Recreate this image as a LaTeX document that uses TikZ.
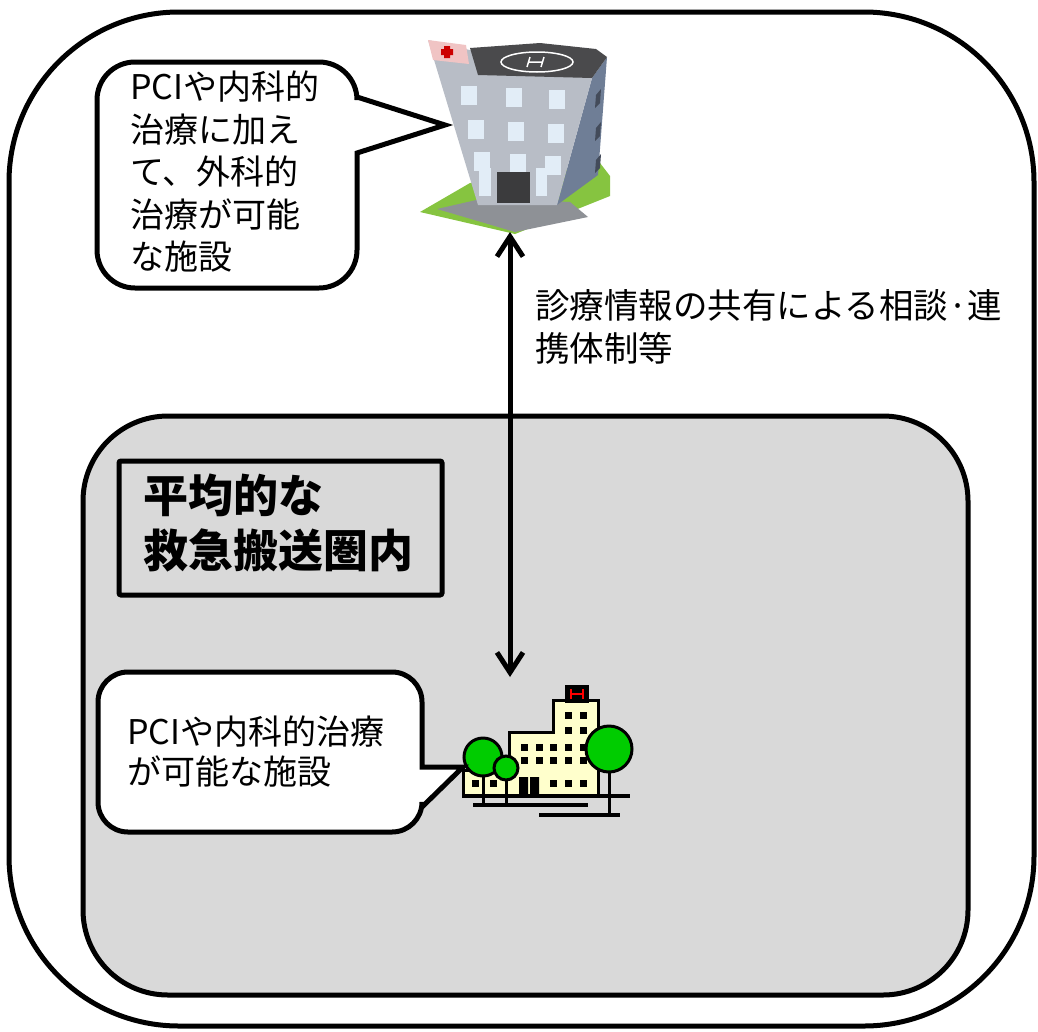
\documentclass[tikz,border=0pt]{standalone}
\usepackage{fontspec}
\setmainfont{Noto Sans CJK JP}
\usetikzlibrary{arrows.meta}
\definecolor{zonegray}{HTML}{D9D9D9}
\definecolor{cream}{HTML}{FFFFCC}
\definecolor{leaf}{HTML}{00CC00}
\definecolor{grass}{HTML}{86C440}
\definecolor{pave}{HTML}{8E9196}
\definecolor{facegray}{HTML}{B8BDC6}
\definecolor{sideblue}{HTML}{6F7E96}
\definecolor{roofgray}{HTML}{4A4A4C}
\definecolor{pane}{HTML}{E2EDF7}
\definecolor{crosspink}{HTML}{F0C4C4}
\tikzset{
  frame/.style   = {draw, line width=5pt, rounded corners=170pt},
  zone/.style    = {draw, line width=5pt, fill=zonegray, rounded corners=85pt},
  callout/.style = {draw, line width=5pt, fill=white},
  tagbox/.style  = {draw, line width=5pt, rounded corners=2pt},
  link/.style    = {line width=5pt,
                    {Straight Barb[length=20pt,width=26pt]}-{Straight Barb[length=20pt,width=26pt]}},
  txt/.style     = {inner sep=0pt, align=left, anchor=west,
                    font=\fontsize{34pt}{42.5pt}\selectfont},
  tagtxt/.style  = {inner sep=0pt, align=left, anchor=west,
                    font=\bfseries\fontsize{45pt}{55pt}\selectfont},
  clip/.style    = {draw, line width=3pt, line join=miter},
  win/.style     = {fill=black},
  tree/.style    = {draw, line width=3pt, fill=leaf},
}

\begin{document}
\begin{tikzpicture}[x=1pt, y=-1pt]
  \useasboundingbox (0,0) rectangle (1038,1031);

  % outer area and the transport zone
  \draw[frame] (9,12) rectangle (1034,1026);
  \path[zone] (83,416) rectangle (968,995);
  \draw[tagbox] (119,461) rectangle (442,595);
  \node[tagtxt] (zonetag) at (143,523) {平均的な\\救急搬送圏内};

  % upper hospital (tower with helipad)
  \fill[grass] (420,212) -- (470,183) -- (600,163) -- (610,176) -- (610,196) -- (515,234) -- cycle;
  \fill[pave] (437,209) -- (485,198) -- (570,202) -- (588,217) -- (515,232) -- cycle;
  \fill[sideblue] (592,78) -- (607,57) -- (598,175) -- (557,205) -- cycle;
  \fill[facegray] (428,40) -- (478,52) -- (592,78) -- (557,205) -- (478,205) -- cycle;
  \fill[roofgray] (470,48) -- (540,43) -- (596,49) -- (607,57) -- (592,78) -- (478,75) -- cycle;
  \draw[white, line width=1.5pt] (537,62) ellipse (36pt and 10pt);
  \draw[white, line width=1.5pt] (530,57) -- (527,67) (544,57) -- (541,67) (528,62) -- (543,62);
  \fill[crosspink] (428,40) -- (466,45) -- (469,64) -- (433,60) -- cycle;
  \fill[red!80!black] (444,46) rectangle (450,58) (441,49) rectangle (453,55);
  \foreach \x/\y in {461/86, 506/88, 549/90, 468/120, 508/122, 548/124, 474/152, 510/154, 545/156}
    \fill[pane] (\x,\y) rectangle ++(16,19);
  \fill[pane] (479,168) rectangle (491,196);
  \fill[pane] (536,168) rectangle (547,196);
  \foreach \y in {95, 128, 160}
    \fill[sideblue!60!black] (596,\y) -- (601,\y-6) -- (600,\y+8) -- (595,\y+13) -- cycle;
  \fill[roofgray!80!black] (497,172) rectangle (530,203);
  \coordinate (upperfoot) at (510,232);

  % lower hospital (clip-art building with trees)
  \draw[clip, fill=cream] (463,795) -- (463,770) -- (509,770) -- (509,732) -- (553,732)
    -- (553,700) -- (598,700) -- (598,795) -- cycle;
  \draw[line width=2pt, fill=black] (566,686) rectangle (588,702);
  \draw[red, line width=2.5pt] (571,689) -- (571,699) (583,689) -- (583,699) (571,694) -- (583,694);
  \foreach \x/\y in {568/715, 583/715, 568/730, 583/730}
    \fill[win] (\x-3.5,\y-3.5) rectangle ++(7,7);
  \foreach \x in {524, 539, 553, 568, 583}{
    \fill[win] (\x-3.5,743.5) rectangle ++(7,7);
    \fill[win] (\x-3.5,756.5) rectangle ++(7,7);
  }
  \foreach \x in {475, 493, 553, 568, 583}
    \fill[win] (\x-3.5,779.5) rectangle ++(7,7);
  \fill[black] (519,777) rectangle (528,795) (530,777) rectangle (539,795);
  \draw[line width=4pt] (462,796) -- (630,796);
  \draw[line width=4pt] (473,805) -- (588,805);
  \draw[line width=4pt] (539,815) -- (620,815);
  \draw[line width=3pt] (483,770) -- (483,805) (506,775) -- (506,805) (609,770) -- (609,815);
  \draw[tree] (483,757) circle (19pt);
  \draw[tree] (506,768) circle (12pt);
  \draw[tree] (609,749) circle (23pt);
  \coordinate (lowertop) at (510,677);

  % consultation link between the two facilities
  \draw[link] (upperfoot) -- (lowertop);
  \node[txt, font=\fontsize{34.5pt}{43pt}\selectfont] (linktxt) at (535,327)
    {診療情報の共有による相談·連\\携体制等};

  % speech balloons
  \draw[callout] (97,175) [rounded corners=38pt] |- (357,62) [sharp corners] -- (357,97)
    -- (445,125) -- (357,153) [rounded corners=38pt] |- (97,288) -- cycle;
  \node[txt] (uppernote) at (130,172) {PCIや内科的\\治療に加え\\て、外科的\\治療が可能\\な施設};
  \draw[callout] (98,752) [rounded corners=30pt] |- (422,672) [sharp corners] -- (422,767)
    -- (463,767) -- (422,807) [rounded corners=30pt] |- (98,832) -- cycle;
  \node[txt, font=\fontsize{34pt}{40pt}\selectfont] (lowernote) at (127,752)
    {PCIや内科的治療\\が可能な施設};
\end{tikzpicture}
\end{document}
